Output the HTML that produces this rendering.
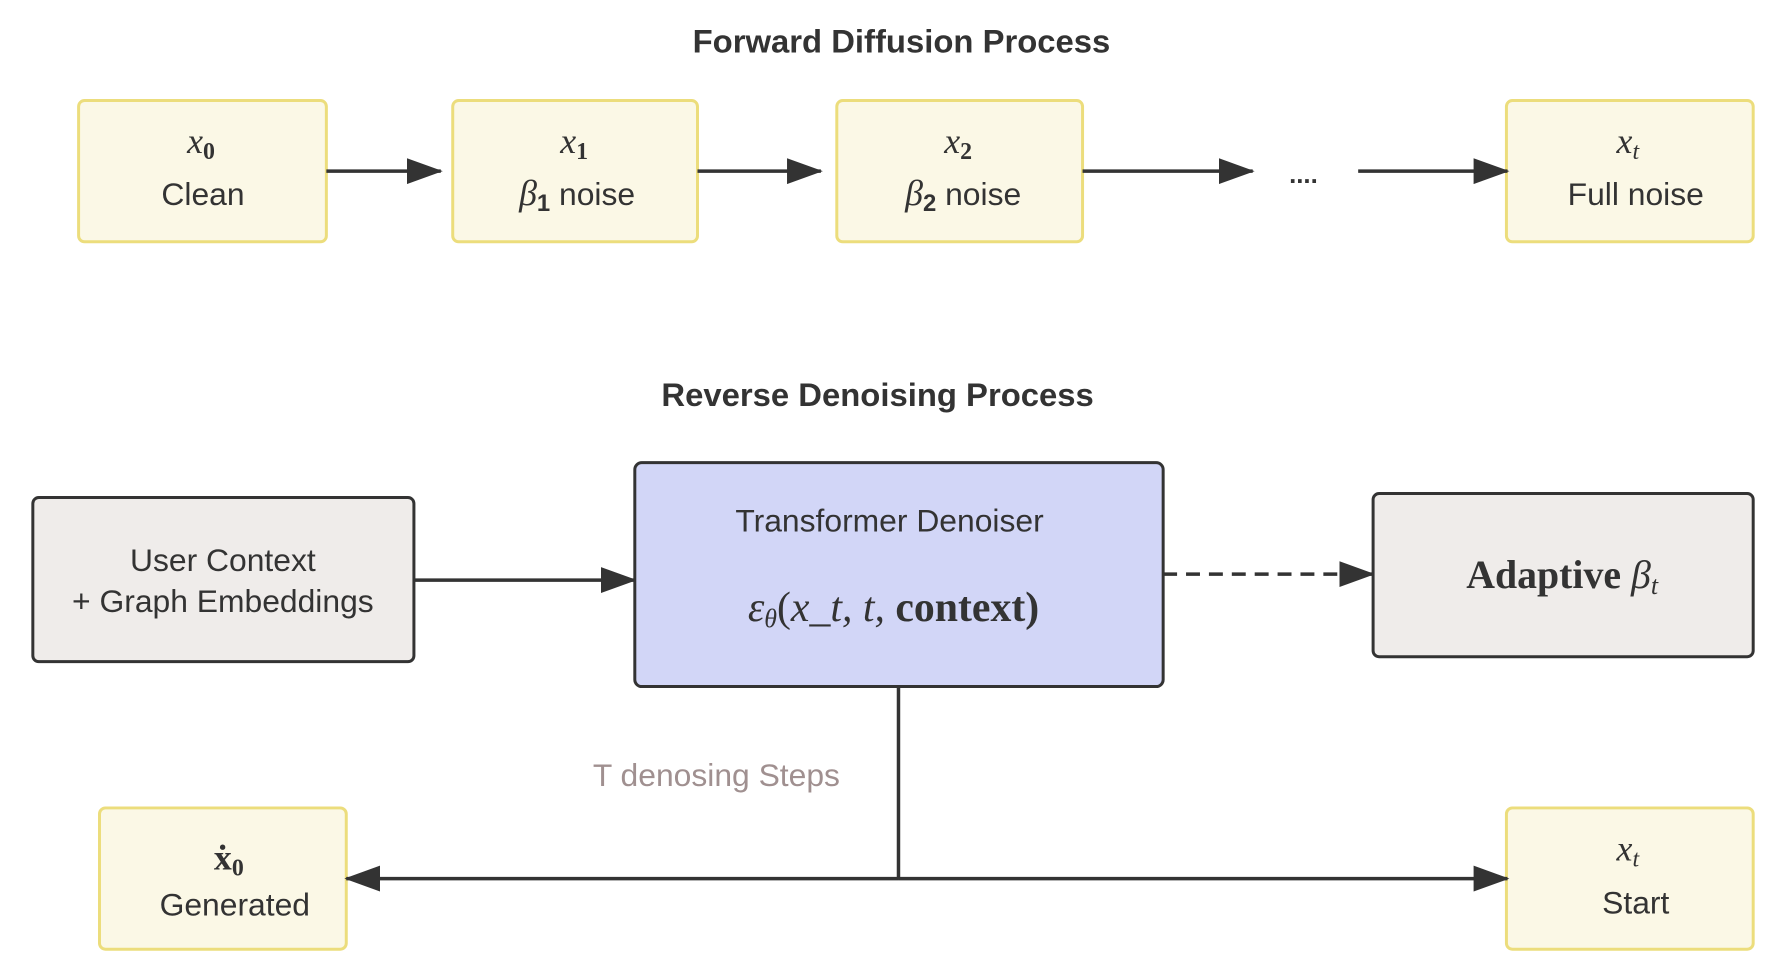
<!DOCTYPE html>
<html><head><meta charset="utf-8"><style>
html,body{margin:0;padding:0;background:#fff;}
svg{display:block;}
.t{font-family:"Liberation Sans",sans-serif;fill:#333;}
.m{font-family:"Liberation Serif",serif;font-style:italic;fill:#333;}
</style></head><body>
<svg width="1791" height="975" viewBox="0 0 1791 975" xmlns="http://www.w3.org/2000/svg">
<defs>
<marker id="a2" markerWidth="36" markerHeight="26" refX="34" refY="13" orient="auto" markerUnits="userSpaceOnUse" viewBox="0 0 36 26"><path d="M0,0 L36,13 L0,26 z" fill="#333"/></marker>
</defs>
<g transform="scale(0.995)">
<text class="t" x="906" y="53" font-size="33" text-anchor="middle" font-weight="bold" fill="#333">Forward Diffusion Process</text>
<g fill="#fbf8e6" stroke="#ecdd7c" stroke-width="3">
<rect x="79" y="101" width="249" height="142" rx="6"/>
<rect x="455" y="101" width="246" height="142" rx="6"/>
<rect x="841" y="101" width="247" height="142" rx="6"/>
<rect x="1514" y="101" width="248" height="142" rx="6"/>
<rect x="100" y="812" width="248" height="142" rx="6"/>
<rect x="1514" y="812" width="248" height="142" rx="6"/>
</g>
<g stroke="#333" stroke-width="3.5" fill="none">
<line x1="328" y1="172" x2="443" y2="172" marker-end="url(#a2)"/>
<line x1="701" y1="172" x2="825" y2="172" marker-end="url(#a2)"/>
<line x1="1088" y1="172" x2="1259" y2="172" marker-end="url(#a2)"/>
<line x1="1365" y1="172" x2="1515" y2="172" marker-end="url(#a2)"/>
<line x1="416" y1="583" x2="638" y2="583" marker-end="url(#a2)"/>
<line x1="1169" y1="577" x2="1380" y2="577" stroke-dasharray="14,9" marker-end="url(#a2)"/>
<line x1="903" y1="690" x2="903" y2="883"/>
<line x1="903" y1="883" x2="348" y2="883" marker-end="url(#a2)"/>
<line x1="903" y1="883" x2="1515" y2="883" marker-end="url(#a2)"/>
</g>
<text class="m" x="202" y="154" font-size="36" text-anchor="middle">x<tspan font-style="normal" font-weight="bold" font-size="24" dy="6">0</tspan></text>
<text class="t" x="204" y="206" font-size="32" text-anchor="middle">Clean</text>
<text class="m" x="577" y="154" font-size="36" text-anchor="middle">x<tspan font-style="normal" font-weight="bold" font-size="24" dy="6">1</tspan></text>
<text class="t" x="580" y="206" font-size="32" text-anchor="middle"><tspan class="m" font-size="36">β</tspan><tspan font-size="24" font-weight="bold" dy="6">1</tspan><tspan dy="-6">  noise</tspan></text>
<text class="m" x="963" y="154" font-size="36" text-anchor="middle">x<tspan font-style="normal" font-weight="bold" font-size="24" dy="6">2</tspan></text>
<text class="t" x="968" y="206" font-size="32" text-anchor="middle"><tspan class="m" font-size="36">β</tspan><tspan font-size="24" font-weight="bold" dy="6">2</tspan><tspan dy="-6">  noise</tspan></text>
<text class="t" x="1310" y="184" font-size="26" text-anchor="middle" font-weight="bold">....</text>
<text class="m" x="1636" y="154" font-size="36" text-anchor="middle">x<tspan font-size="24" dy="6">t</tspan></text>
<text class="t" x="1644" y="206" font-size="32" text-anchor="middle">Full noise</text>
<text class="t" x="882" y="408" font-size="33" text-anchor="middle" font-weight="bold">Reverse Denoising Process</text>
<rect x="33" y="500" width="383" height="165" rx="6" fill="#efecea" stroke="#333" stroke-width="3"/>
<text class="t" x="224" y="574" font-size="32" text-anchor="middle">User Context</text>
<text class="t" x="224" y="615" font-size="32" text-anchor="middle">+ Graph Embeddings</text>
<rect x="638" y="465" width="531" height="225" rx="7" fill="#d2d6f7" stroke="#333" stroke-width="3"/>
<text class="t" x="894" y="534" font-size="32" text-anchor="middle">Transformer Denoiser</text>
<text class="m" x="898" y="624" font-size="42" text-anchor="middle">ε<tspan font-size="26" dy="6">θ</tspan><tspan dy="-6" font-style="normal">(</tspan>x_t, t, <tspan font-style="normal" font-weight="bold">context)</tspan></text>
<rect x="1380" y="496" width="382" height="164" rx="6" fill="#efecea" stroke="#333" stroke-width="3"/>
<text class="t" x="1570" y="591" font-size="40" text-anchor="middle"><tspan font-family="Liberation Serif" font-weight="bold">Adaptive </tspan><tspan class="m">β</tspan><tspan class="m" font-size="26" dy="6">t</tspan></text>
<text class="t" x="720" y="790" font-size="32" text-anchor="middle" style="fill:#a09090">T denosing Steps</text>
<text x="230" y="874" font-size="36" text-anchor="middle" font-family="Liberation Serif" font-weight="bold" fill="#333">ẋ<tspan font-size="24" dy="6">0</tspan></text>
<text class="t" x="236" y="920" font-size="32" text-anchor="middle">Generated</text>
<text class="m" x="1636" y="865" font-size="36" text-anchor="middle">x<tspan font-size="24" dy="6">t</tspan></text>
<text class="t" x="1644" y="918" font-size="32" text-anchor="middle">Start</text>
</g>
</svg>
</body></html>
